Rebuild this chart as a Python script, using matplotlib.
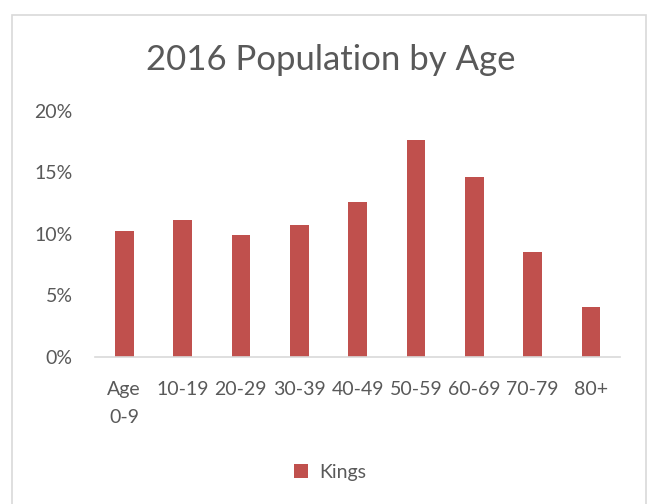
import matplotlib.pyplot as plt
from matplotlib.patches import Rectangle
from matplotlib.ticker import FuncFormatter

categories = ["Age\n0-9", "10-19", "20-29", "30-39", "40-49", "50-59", "60-69", "70-79", "80+"]
kings = [10.2, 11.1, 9.9, 10.7, 12.6, 17.6, 14.6, 8.5, 4.1]

plt.rcParams['font.family'] = ['Lato', 'DejaVu Sans']
text_col = "#595959"
bar_col = "#C0504D"

fig = plt.figure(figsize=(6.48, 5.04), dpi=100)
ax = fig.add_axes([0.1466, 0.2917, 0.8104, 0.4883])

# chart frame like Excel
fig.patches.append(Rectangle((12 / 648, -0.05), (646 - 12) / 648, 1 - 15 / 504 + 0.05,
                             transform=fig.transFigure, fill=False,
                             edgecolor="#D9D9D9", linewidth=1.2))

x = range(len(categories))
ax.bar(x, kings, width=0.32, color=bar_col, label="Kings")

ax.set_xlim(-0.5, len(categories) - 0.5)
ax.set_ylim(0, 20)
ax.set_yticks([0, 5, 10, 15, 20])
ax.yaxis.set_major_formatter(FuncFormatter(lambda v, p: f"{v:.0f}%"))
ax.set_xticks(list(x))
ax.set_xticklabels(categories, linespacing=1.8, va="top")

for s in ["top", "right", "left"]:
    ax.spines[s].set_visible(False)
ax.spines["bottom"].set_color("#D9D9D9")
ax.spines["bottom"].set_linewidth(1.2)
ax.tick_params(axis="both", length=0, labelsize=14, labelcolor=text_col)
ax.tick_params(axis="y", pad=16)
ax.tick_params(axis="x", pad=17)

fig.text(0.51, 0.88, "2016 Population by Age", ha="center", va="center",
         fontsize=25, color=text_col)

fig.legend(loc="center", bbox_to_anchor=(0.51, 0.063), frameon=False,
           fontsize=14, labelcolor=text_col, handlelength=0.7, handleheight=0.7,
           handletextpad=0.6)

plt.savefig("out.png", dpi=100)
